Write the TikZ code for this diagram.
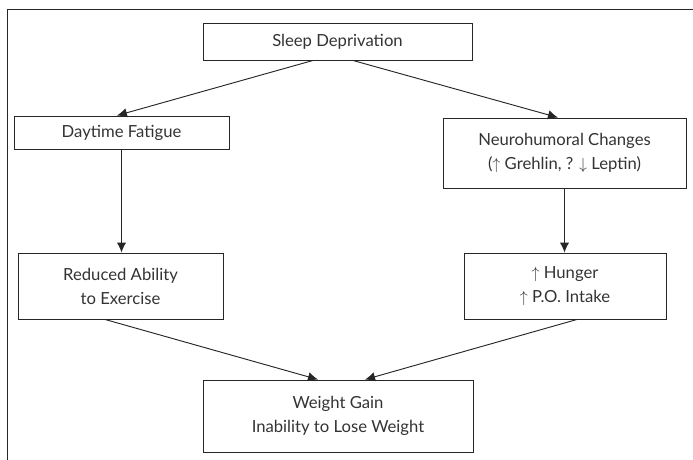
\documentclass[tikz,border=0pt]{standalone}
\usepackage{fontspec}
\setmainfont{Lato}
\usetikzlibrary{arrows.meta, positioning, calc}

\begin{document}
\begin{tikzpicture}[
    x=0.75pt, y=-0.75pt,
    >={Latex[length=7.5pt, width=7pt]},
    box/.style={draw=black!85, line width=0.7pt, inner sep=0pt, align=center,
                text=black!80, font=\fontsize{12.5}{18}\selectfont},
    arrow/.style={->, line width=0.7pt, color=black!85},
]
\useasboundingbox (0,0) rectangle (693,460);

% frame
\draw[line width=0.7pt, black!85] (7,460) -- (7,9) -- (693,9);

% top
\node[box, minimum width=269*0.75pt, minimum height=37*0.75pt] (sleep) at (337.5,41.5)
    {Sleep Deprivation};

% left column
\node[box, minimum width=215*0.75pt, minimum height=33*0.75pt] (fatigue) at (121.5,132.5)
    {Daytime Fatigue};
\node[box, minimum width=205*0.75pt, minimum height=66*0.75pt] (reduced) at (120.5,286)
    {Reduced Ability\\to Exercise};

% right column
\node[box, minimum width=243*0.75pt, minimum height=70*0.75pt] (neuro) at (564.5,153)
    {Neurohumoral Changes\\($\uparrow$ Grehlin, ? $\downarrow$ Leptin)};
\node[box, minimum width=202*0.75pt, minimum height=66*0.75pt] (hunger) at (565,286)
    {$\uparrow$ Hunger\\$\uparrow$ P.O. Intake};

% bottom
\node[box, minimum width=270*0.75pt, minimum height=72*0.75pt] (weight) at (338,416)
    {Weight Gain\\Inability to Lose Weight};

% arrows
\draw[arrow] ([xshift=-18.4pt]sleep.south) -- ([xshift=-3.4pt]fatigue.north);
\draw[arrow] ([xshift=11.6pt]sleep.south) -- ([xshift=-4.9pt]neuro.north);
\draw[arrow] (fatigue.south) -- (fatigue.south |- reduced.north);
\draw[arrow] (neuro.south) -- (neuro.south |- hunger.north);
\draw[arrow] ([xshift=-11.6pt]reduced.south) -- ([xshift=-15pt]weight.north);
\draw[arrow] ([xshift=9pt]hunger.south) -- ([xshift=20.3pt]weight.north);

\end{tikzpicture}
\end{document}
